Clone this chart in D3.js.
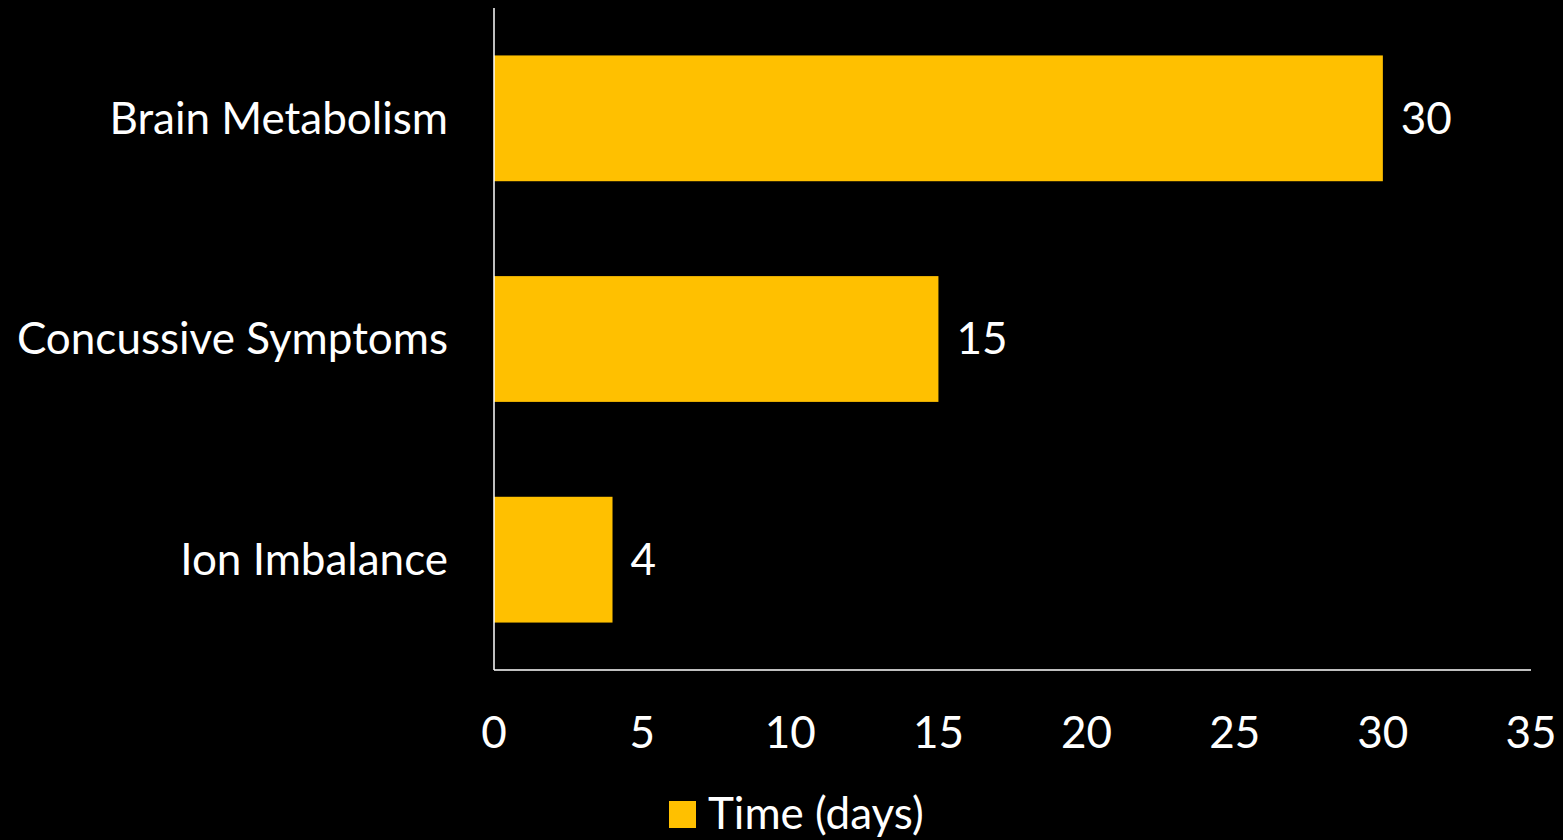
<!DOCTYPE html>
<html>
<head>
<meta charset="utf-8">
<script src="https://cdn.jsdelivr.net/npm/d3@7"></script>
<style>
  html, body { margin: 0; padding: 0; background: #000; }
  svg { display: block; }
  text { font-family: Lato, "Open Sans", sans-serif; fill: #fff; }
</style>
</head>
<body>
<svg id="chart" width="1563" height="840"></svg>
<script>
const categories = ["Brain Metabolism", "Concussive Symptoms", "Ion Imbalance"];
const values = [30, 15, 4];
const xTicks = [0, 5, 10, 15, 20, 25, 30, 35];
const seriesName = "Time (days)";

const W = 1563, H = 840;
const margin = { left: 494, right: 32, top: 8, bottom: 170 };
const barColor = "#FFC000";
const fontSize = 44;

const svg = d3.select("#chart");
svg.append("rect").attr("width", W).attr("height", H).attr("fill", "#000");

const x = d3.scaleLinear().domain([0, 35]).range([margin.left, W - margin.right]);
const y = d3.scaleBand().domain(categories).range([margin.top, H - margin.bottom]).paddingInner(0.43).paddingOuter(0.215);

const data = categories.map((c, i) => ({ c, v: values[i] }));

svg.selectAll("rect.bar").data(data).join("rect")
  .attr("class", "bar")
  .attr("x", x(0))
  .attr("y", d => y(d.c))
  .attr("width", d => x(d.v) - x(0))
  .attr("height", y.bandwidth())
  .attr("fill", barColor);

// axes lines
svg.append("line").attr("x1", x(0)).attr("x2", x(0)).attr("y1", margin.top).attr("y2", H - margin.bottom)
  .attr("stroke", "#fff").attr("stroke-width", 1.5);
svg.append("line").attr("x1", x(0)).attr("x2", x(35)).attr("y1", H - margin.bottom).attr("y2", H - margin.bottom)
  .attr("stroke", "#fff").attr("stroke-width", 1.5);

// x tick labels
svg.selectAll("text.xt").data(xTicks).join("text")
  .attr("class", "xt")
  .attr("x", d => x(d))
  .attr("y", 748)
  .attr("text-anchor", "middle")
  .attr("font-size", fontSize)
  .text(d => d);

// category labels
svg.selectAll("text.cat").data(data).join("text")
  .attr("class", "cat")
  .attr("x", x(0) - 46)
  .attr("y", d => y(d.c) + y.bandwidth() / 2)
  .attr("dy", "0.35em")
  .attr("text-anchor", "end")
  .attr("font-size", fontSize)
  .text(d => d.c);

// value labels
svg.selectAll("text.val").data(data).join("text")
  .attr("class", "val")
  .attr("x", d => x(d.v) + 18)
  .attr("y", d => y(d.c) + y.bandwidth() / 2)
  .attr("dy", "0.35em")
  .attr("text-anchor", "start")
  .attr("font-size", fontSize)
  .text(d => d.v);

// legend
const lg = svg.append("g");
lg.append("rect").attr("x", 669).attr("y", 801).attr("width", 27).attr("height", 27).attr("fill", barColor);
lg.append("text").attr("x", 708).attr("y", 814).attr("dy", "0.35em").attr("font-size", fontSize).text(seriesName);
</script>
</body>
</html>
